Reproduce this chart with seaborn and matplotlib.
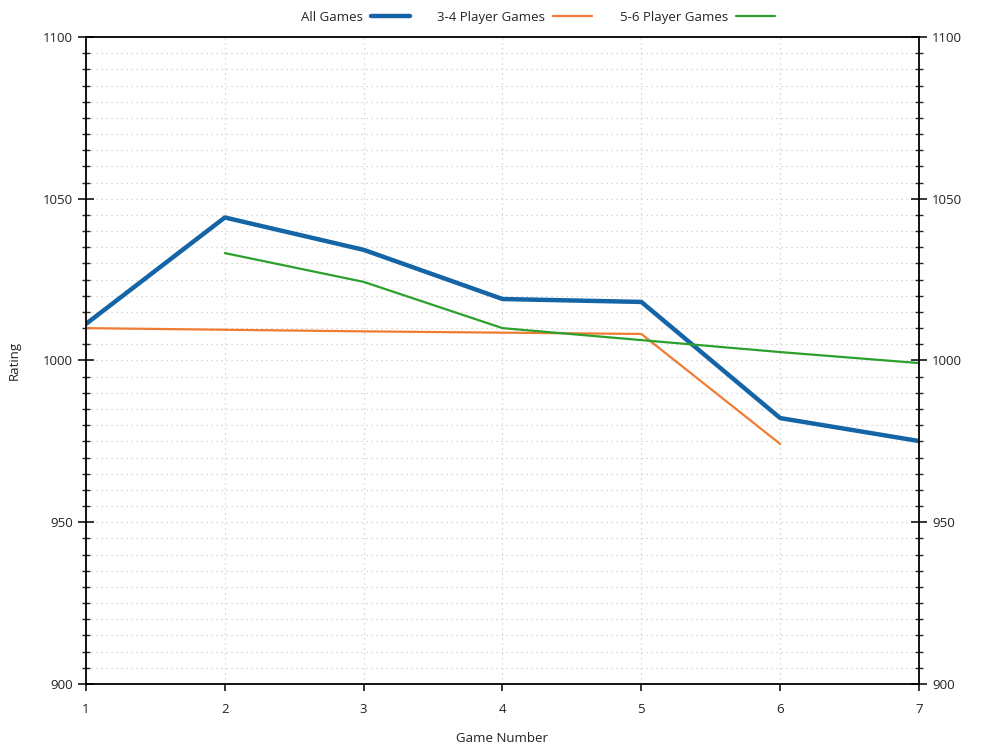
import matplotlib
matplotlib.use("Agg")
import matplotlib.pyplot as plt
import seaborn as sns
import numpy as np
from matplotlib.ticker import MultipleLocator

games = [1, 2, 3, 4, 5, 6, 7]
all_games = [1011.3, 1044.2, 1034.2, 1019.0, 1018.1, 982.2, 975.1]
games_34 = [1, 2, 3, 4, 5, 6]
player_34 = [1010.0, 1009.5, 1009.0, 1008.6, 1008.2, 974.2]
games_56 = [2, 3, 4, 5, 6, 7]
player_56 = [1033.2, 1024.3, 1010.0, 1006.3, 1002.6, 999.2]

sns.set_theme(style="white")
plt.rcParams['font.family'] = ['Open Sans', 'DejaVu Sans']

fig = plt.figure(figsize=(10, 7.5), dpi=100)
ax = fig.add_axes([0.086, 0.088, 0.833, 0.8627])

sns.lineplot(x=games, y=all_games, ax=ax, color="#1565a6", linewidth=3.2, label="All Games")
sns.lineplot(x=games_34, y=player_34, ax=ax, color="#f07b32", linewidth=1.6, label="3-4 Player Games")
sns.lineplot(x=games_56, y=player_56, ax=ax, color="#2ca02c", linewidth=1.6, label="5-6 Player Games")

ax.set_xlim(1, 7)
ax.set_ylim(900, 1100)
ax.xaxis.set_major_locator(MultipleLocator(1))
ax.yaxis.set_major_locator(MultipleLocator(50))
ax.yaxis.set_minor_locator(MultipleLocator(5))

for s in ax.spines.values():
    s.set_color("black")
    s.set_linewidth(1.3)

ax.grid(True, which="both", axis="y", color="#cccccc", linestyle=(0, (1, 3)), linewidth=0.9)
ax.grid(True, which="major", axis="x", color="#cccccc", linestyle=(0, (1, 3)), linewidth=0.9)

ax.tick_params(axis="y", which="major", direction="inout", length=11, width=1.1,
               left=True, right=True, labelleft=True, labelright=True,
               labelsize=9.5, colors="black", pad=4)
ax.tick_params(axis="y", which="minor", direction="inout", length=6, width=1.0,
               left=True, right=True)
ax.tick_params(axis="x", which="major", direction="out", length=5, width=1.1,
               bottom=True, top=False, labelsize=9.5, colors="black", pad=9)
for lbl in ax.get_yticklabels() + ax.get_xticklabels():
    lbl.set_color("#222222")

ax.set_xlabel("Game Number", fontsize=9.5, color="#222222", labelpad=11)
ax.set_ylabel("Rating", fontsize=9.5, color="#222222", labelpad=16)

leg = ax.legend(loc="center", bbox_to_anchor=(0.538, 0.977), bbox_transform=fig.transFigure,
                ncol=3, frameon=False, markerfirst=False, fontsize=9.5,
                handlelength=2.95, columnspacing=2.1, handletextpad=0.6)

fig.savefig("out.png", dpi=100, facecolor="white")
